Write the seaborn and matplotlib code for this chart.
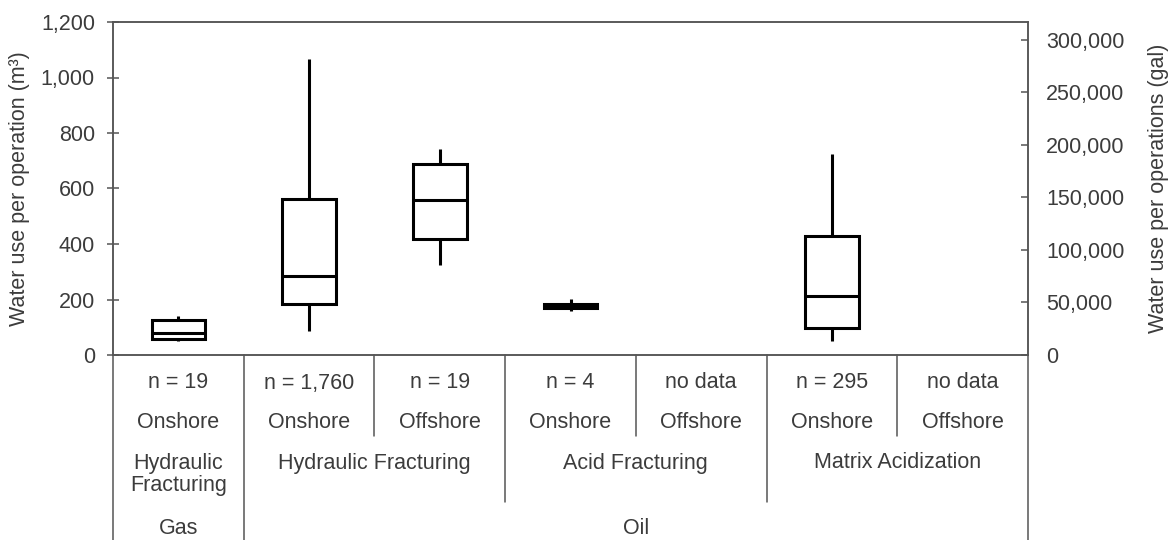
import numpy as np
import pandas as pd
import matplotlib
matplotlib.use("Agg")
import matplotlib.pyplot as plt
import matplotlib.transforms as mtransforms
from matplotlib.ticker import FuncFormatter, MultipleLocator
import seaborn as sns

# ---- table of operations (one column per box) ----
fluid = ["Gas", "Oil", "Oil", "Oil", "Oil", "Oil", "Oil"]
technique = ["Hydraulic Fracturing", "Hydraulic Fracturing", "Hydraulic Fracturing",
             "Acid Fracturing", "Acid Fracturing",
             "Matrix Acidization", "Matrix Acidization"]
location = ["Onshore", "Onshore", "Offshore", "Onshore", "Offshore", "Onshore", "Offshore"]
sample_size = ["n = 19", "n = 1,760", "n = 19", "n = 4", "no data", "n = 295", "no data"]

# ---- water use per operation, m³ (box-and-whisker summaries) ----
whisker_low = [49, 85, 323, 157, np.nan, 50, np.nan]
quartile_1 = [56, 185, 418, 170, np.nan, 96, np.nan]
median = [81, 286, 558, 177, np.nan, 211, np.nan]
quartile_3 = [127, 562, 689, 184, np.nan, 430, np.nan]
whisker_high = [139, 1068, 742, 203, np.nan, 724, np.nan]

GAL_PER_M3 = 264.172

columns = [f"{f} | {t} | {l}" for f, t, l in zip(fluid, technique, location)]
records = []
for col, lo, q1, md, q3, hi in zip(columns, whisker_low, quartile_1, median,
                                    quartile_3, whisker_high):
    for v in (lo, q1, md, q3, hi):
        if not np.isnan(v):
            records.append({"column": col, "water": v})
df = pd.DataFrame(records)

sns.set_theme(style="white")
plt.rcParams["font.family"] = ["Liberation Sans", "DejaVu Sans"]
TEXT = "#3c3c3c"
FRAME = "#555555"
FS = 15.5

fig = plt.figure(figsize=(11.71, 5.40), dpi=100)
ax = fig.add_axes([113 / 1171, 185 / 540, 915 / 1171, 333 / 540])

sns.boxplot(data=df, x="column", y="water", order=columns, whis=(0, 100),
            width=0.41, showcaps=False, color="white", linecolor="black",
            linewidth=2.2, saturation=1, ax=ax)

ax.set_xlim(-0.5, len(columns) - 0.5)
ax.set_ylim(0, 1200)
ax.set_xlabel("")
ax.tick_params(axis="x", bottom=False, labelbottom=False)
ax.yaxis.set_major_locator(MultipleLocator(200))
ax.yaxis.set_major_formatter(FuncFormatter(lambda v, p: f"{v:,.0f}"))
ax.tick_params(axis="y", direction="inout", length=8, width=1.1, color=FRAME,
               labelsize=FS, labelcolor=TEXT, pad=9)
ax.set_ylabel("Water use per operation (m³)", fontsize=FS, color=TEXT, labelpad=8)
for s in ax.spines.values():
    s.set_color(FRAME)
    s.set_linewidth(1.1)

# secondary axis in US gallons
ax2 = ax.twinx()
ax2.set_ylim(0, 1200 * GAL_PER_M3)
ax2.yaxis.set_major_locator(MultipleLocator(50000))
ax2.yaxis.set_major_formatter(FuncFormatter(lambda v, p: f"{v:,.0f}"))
ax2.tick_params(axis="y", direction="in", length=5, width=1.1, color=FRAME,
                labelsize=FS, labelcolor=TEXT, pad=13)
ax2.set_ylabel("Water use per operations (gal)", fontsize=FS, color=TEXT,
               rotation=90, labelpad=17)
for s in ax2.spines.values():
    s.set_color(FRAME)
    s.set_linewidth(1.1)
ax2.grid(False)
ax.grid(False)

# ---- category table under the x axis ----
trans = mtransforms.blended_transform_factory(ax.transData, ax.transAxes)
px = 1 / 333  # one pixel in axes fraction
row_y = {"n": -28 * px, "loc": -68 * px, "tech": -108 * px, "fluid": -173 * px}
line_gap = 23 * px
end_loc, end_tech, end_fluid = -81 * px, -147 * px, -0.7

xs = np.arange(len(columns))
line_kw = dict(color=FRAME, lw=1.1, transform=trans, clip_on=False)

# outer borders
ax.plot([-0.5, -0.5], [0, end_fluid], **line_kw)
ax.plot([len(columns) - 0.5] * 2, [0, end_fluid], **line_kw)

# dividers: length follows the highest level that changes
for i in range(len(columns) - 1):
    if fluid[i] != fluid[i + 1]:
        end = end_fluid
    elif technique[i] != technique[i + 1]:
        end = end_tech
    else:
        end = end_loc
    ax.plot([i + 0.5, i + 0.5], [0, end], **line_kw)

txt_kw = dict(transform=trans, ha="center", va="center", fontsize=FS, color=TEXT,
              clip_on=False)
for x, n, loc in zip(xs, sample_size, location):
    ax.text(x, row_y["n"], n, **txt_kw)
    ax.text(x, row_y["loc"], loc, **txt_kw)


def runs(keys):
    start = 0
    for i in range(1, len(keys) + 1):
        if i == len(keys) or keys[i] != keys[start]:
            yield start, i - 1
            start = i


tech_keys = list(zip(fluid, technique))
for a, b in runs(tech_keys):
    label = technique[a]
    if a == b:
        label = label.replace(" ", "\n")
    nlines = label.count("\n") + 1
    ax.text((xs[a] + xs[b]) / 2, row_y["tech"] - (nlines - 1) * line_gap / 2,
            label, linespacing=1.05, **txt_kw)

for a, b in runs(fluid):
    ax.text((xs[a] + xs[b]) / 2, row_y["fluid"], fluid[a], **txt_kw)

fig.savefig("out.png", dpi=100, facecolor="white")
